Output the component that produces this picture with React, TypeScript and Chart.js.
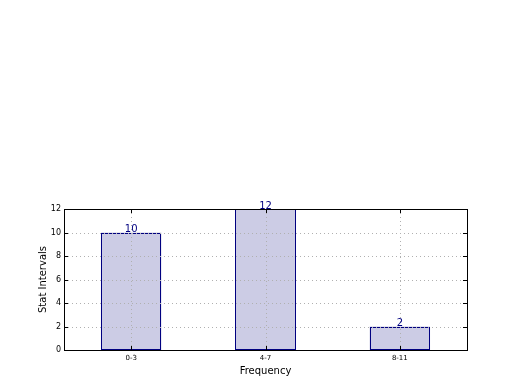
import React, { useEffect, useRef } from "react";
import { Chart, registerables } from "chart.js";

Chart.register(...registerables);

const categories = ["0-3", "4-7", "8-11"];
const values = [10, 12, 2];
const yTicks = [0, 2, 4, 6, 8, 10, 12];
const xTitle = "Frequency";
const yTitle = "Stat Intervals";

const FONT = "'DejaVu Sans', sans-serif";

const overlay = {
  id: "overlay",
  afterDatasetsDraw(chart: any) {
    const { ctx, chartArea, scales } = chart;
    const { left, right, top, bottom } = chartArea;
    const xs = scales.x;
    const ys = scales.y;
    ctx.save();
    // bar outlines (crisp)
    ctx.strokeStyle = "#000080";
    ctx.lineWidth = 1;
    const meta = chart.getDatasetMeta(0);
    meta.data.forEach((bar: any) => {
      const w = bar.width;
      const x0 = Math.round(bar.x - w / 2) + 0.5;
      const x1 = Math.round(bar.x + w / 2) - 0.5;
      const y0 = Math.round(bar.y) + 0.5;
      const y1 = Math.round(bar.base) - 0.5;
      ctx.strokeRect(x0, y0, x1 - x0, y1 - y0);
    });
    // grid dotted
    ctx.strokeStyle = "#b0b0b0";
    ctx.lineWidth = 1;
    ctx.setLineDash([1, 3]);
    for (let i = 0; i < categories.length; i++) {
      const x = Math.round(xs.getPixelForValue(i)) + 0.5;
      ctx.beginPath();
      ctx.moveTo(x, top);
      ctx.lineTo(x, bottom);
      ctx.stroke();
    }
    for (const v of yTicks) {
      const y = Math.round(ys.getPixelForValue(v)) + 0.5;
      ctx.beginPath();
      ctx.moveTo(left, y);
      ctx.lineTo(right, y);
      ctx.stroke();
    }
    ctx.setLineDash([]);
    // tick marks
    ctx.strokeStyle = "#000";
    for (const v of yTicks) {
      const y = Math.round(ys.getPixelForValue(v)) + 0.5;
      ctx.beginPath();
      ctx.moveTo(left, y);
      ctx.lineTo(left + 4, y);
      ctx.moveTo(right, y);
      ctx.lineTo(right - 4, y);
      ctx.stroke();
    }
    for (let i = 0; i < categories.length; i++) {
      const x = Math.round(xs.getPixelForValue(i)) + 0.5;
      ctx.beginPath();
      ctx.moveTo(x, bottom);
      ctx.lineTo(x, bottom - 4);
      ctx.moveTo(x, top);
      ctx.lineTo(x, top + 4);
      ctx.stroke();
    }
    // box
    ctx.strokeStyle = "#000";
    ctx.lineWidth = 1;
    ctx.strokeRect(Math.round(left) + 0.5, Math.round(top) + 0.5, Math.round(right - left), Math.round(bottom - top));
    // value labels
    ctx.fillStyle = "#000080";
    ctx.font = `10px ${FONT}`;
    ctx.textAlign = "center";
    ctx.textBaseline = "bottom";
    meta.data.forEach((bar: any, i: number) => {
      ctx.fillText(String(values[i]), bar.x, bar.y + 2);
    });
    // axis titles
    ctx.fillStyle = "#000";
    ctx.font = `10px ${FONT}`;
    ctx.textBaseline = "middle";
    ctx.fillText(xTitle, (left + right) / 2, 371);
    ctx.translate(43, (top + bottom) / 2);
    ctx.rotate(-Math.PI / 2);
    ctx.fillText(yTitle, 0, 0);
    ctx.restore();
  },
};

export default function App() {
  const ref = useRef<HTMLCanvasElement>(null);
  useEffect(() => {
    const chart = new Chart(ref.current!, {
      type: "bar",
      data: {
        labels: categories,
        datasets: [
          {
            data: values,
            backgroundColor: "#ccccE5",
            borderWidth: 0,
            barPercentage: 0.45,
            categoryPercentage: 1,
          },
        ],
      },
      options: {
        animation: false,
        responsive: false,
        layout: { padding: { left: 0, top: 209, right: 53, bottom: 0 } },
        plugins: { legend: { display: false }, tooltip: { enabled: false } },
        scales: {
          x: {
            offset: true,
            grid: { display: false, drawTicks: false },
            border: { display: false },
            ticks: { color: "#000", font: { family: FONT, size: 7 }, padding: 4 },
            afterFit(scale: any) {
              scale.height = 40;
            },
          },
          y: {
            min: 0,
            max: 12,
            grid: { display: false, drawTicks: false },
            border: { display: false },
            ticks: { stepSize: 2, color: "#000", font: { family: FONT, size: 8 }, padding: 3 },
            afterFit(scale: any) {
              scale.width = 64;
            },
          },
        },
      },
      plugins: [overlay],
    });
    return () => chart.destroy();
  }, []);
  return (
    <div style={{ position: "absolute", left: 0, top: 0, width: 520, height: 390, background: "#fff" }}>
      <canvas ref={ref} width={520} height={390} />
    </div>
  );
}
